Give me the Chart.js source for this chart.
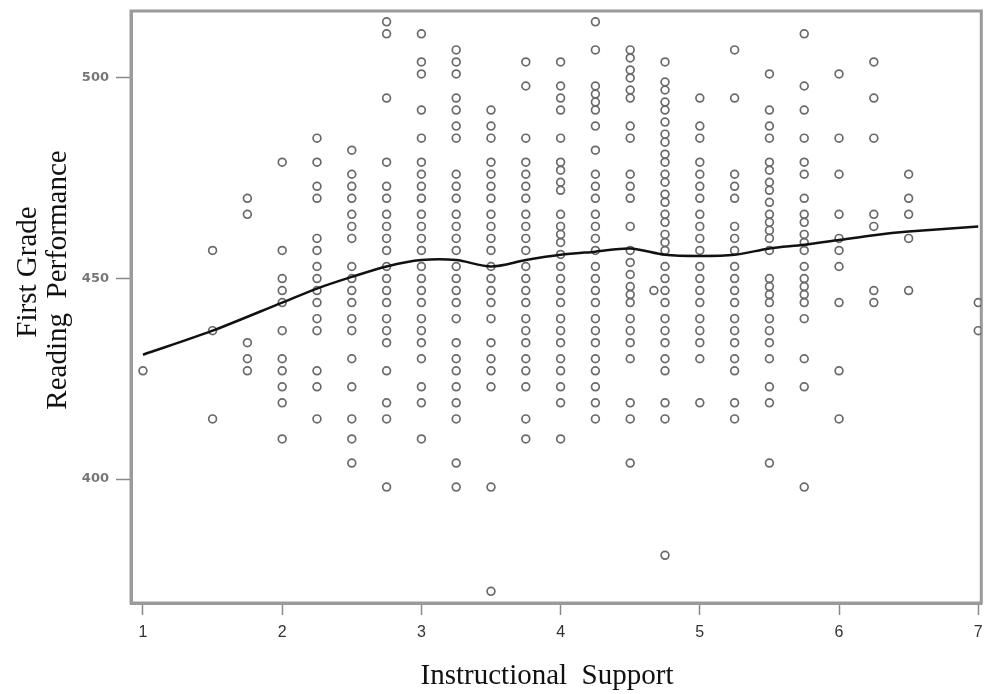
<!DOCTYPE html>
<html>
<head>
<meta charset="utf-8">
<script src="https://cdn.jsdelivr.net/npm/chart.js@4.4.1/dist/chart.umd.min.js"></script>
<style>
    body { margin: 0; background: #fff; }
</style>
</head>
<body>
<canvas id="scatterGraph" width="987" height="694"></canvas>
<script>
// Reading scores for each Instructional Support level
const scoresAt1 = [427];
const scoresAt1_5 = [457, 437, 415];
const scoresAt1_75 = [470, 466, 434, 430, 427];
const scoresAt2 = [479, 457, 450, 447, 444, 437, 430, 427, 423, 419, 410];
const scoresAt2_25 = [485, 479, 473, 470, 460, 457, 453, 450, 447, 444, 440, 437, 427, 423, 415];
const scoresAt2_5 = [482, 476, 473, 470, 466, 463, 460, 453, 450, 447, 444, 440, 437, 430, 423, 415, 410, 404];
const scoresAt2_75 = [514, 511, 495, 479, 473, 470, 466, 463, 460, 457, 453, 450, 447, 444, 440, 437, 434, 427, 419, 415, 398];
const scoresAt3 = [511, 504, 501, 492, 485, 479, 476, 473, 470, 466, 463, 460, 457, 453, 450, 447, 444, 440, 437, 434, 430, 423, 419, 410];
const scoresAt3_25 = [507, 504, 501, 495, 492, 488, 485, 476, 473, 470, 466, 463, 460, 457, 453, 450, 447, 444, 440, 434, 430, 427, 423, 419, 415, 404, 398];
const scoresAt3_5 = [492, 488, 485, 479, 476, 473, 470, 466, 463, 460, 457, 453, 450, 447, 444, 440, 434, 430, 427, 423, 398, 372];
const scoresAt3_75 = [504, 498, 485, 479, 476, 473, 470, 466, 463, 460, 457, 453, 450, 447, 444, 440, 437, 434, 430, 427, 423, 415, 410];
const scoresAt4 = [504, 498, 495, 492, 485, 479, 477, 474, 472, 466, 463, 461, 459, 456, 453, 450, 447, 444, 440, 437, 434, 430, 427, 423, 419, 410];
const scoresAt4_25 = [514, 507, 498, 496, 494, 492, 488, 482, 476, 473, 470, 466, 463, 460, 457, 453, 450, 447, 444, 440, 437, 434, 430, 427, 423, 419, 415];
const scoresAt4_5 = [507, 505, 502, 500, 497, 495, 488, 485, 476, 473, 470, 463, 457, 454, 451, 448, 446, 444, 440, 437, 434, 430, 419, 415, 404];
const scoresAt4_75 = [504, 499, 497, 494, 492, 489, 486, 484, 481, 479, 476, 474, 471, 469, 466, 464, 461, 459, 457, 453, 450, 447, 444, 440, 437, 434, 430, 427, 419, 415, 381];
const scoresAt5 = [495, 488, 485, 479, 476, 473, 470, 466, 463, 460, 457, 453, 450, 447, 444, 440, 437, 434, 430, 419];
const scoresAt5_25 = [507, 495, 476, 473, 470, 463, 460, 457, 453, 450, 447, 444, 440, 437, 434, 430, 427, 419, 415];
const scoresAt5_5 = [501, 492, 488, 485, 479, 477, 474, 472, 469, 466, 464, 462, 460, 457, 450, 448, 446, 444, 440, 437, 434, 430, 423, 419, 404];
const scoresAt5_75 = [511, 498, 492, 485, 479, 476, 470, 466, 464, 461, 459, 457, 453, 450, 448, 446, 444, 440, 430, 423, 398];
const scoresAt6 = [501, 485, 476, 466, 460, 457, 453, 444, 427, 415];
const scoresAt6_25 = [504, 495, 485, 466, 463, 447, 444];
const scoresAt6_5 = [476, 470, 466, 460, 447];
const scoresAt7 = [444, 437];

const supportLevels = [1, 1.5, 1.75, 2, 2.25, 2.5, 2.75, 3, 3.25, 3.5, 3.75, 4, 4.25, 4.5, 4.75, 5, 5.25, 5.5, 5.75, 6, 6.25, 6.5, 7];
const scoresByLevel = [scoresAt1, scoresAt1_5, scoresAt1_75, scoresAt2, scoresAt2_25, scoresAt2_5, scoresAt2_75, scoresAt3,
    scoresAt3_25, scoresAt3_5, scoresAt3_75, scoresAt4, scoresAt4_25, scoresAt4_5, scoresAt4_75, scoresAt5, scoresAt5_25,
    scoresAt5_5, scoresAt5_75, scoresAt6, scoresAt6_25, scoresAt6_5, scoresAt7];

// the one point that sits between columns
const strayX = [4.67];
const strayY = [447];

// smoothed fit line
const fitX = [1, 1.5, 2, 2.25, 2.5, 2.75, 3, 3.25, 3.5, 3.75, 4, 4.25, 4.5, 4.75, 5, 5.25, 5.5, 5.75, 6, 6.25, 6.5, 7];
const fitY = [431, 437, 444, 447.5, 450.4, 453, 454.6, 454.6, 453, 454.6, 455.9, 456.7, 457.5, 455.9, 455.6, 455.9, 457.5, 458.4, 459.6, 460.8, 461.7, 463];

const xTickValues = [1, 2, 3, 4, 5, 6, 7];
const yTickValues = [400, 450, 500];

let scatterPoints = [];
for (let i = 0; i < supportLevels.length; i++) {
    for (const score of scoresByLevel[i]) {
        scatterPoints.push({ x: supportLevels[i], y: score });
    }
}
for (let i = 0; i < strayX.length; i++) {
    scatterPoints.push({ x: strayX[i], y: strayY[i] });
}

let fitPoints = [];
for (let i = 0; i < fitX.length; i++) {
    fitPoints.push({ x: fitX[i], y: fitY[i] });
}

const serifFont = '"Liberation Serif", "Times New Roman", serif';

const boxAndTitles = {
    id: 'boxAndTitles',
    beforeDatasetsDraw(chart) {
        const { ctx, chartArea } = chart;
        ctx.save();
        ctx.strokeStyle = '#9a9a9a';
        ctx.lineWidth = 3;
        ctx.strokeRect(chartArea.left, chartArea.top, chartArea.right - chartArea.left, chartArea.bottom - chartArea.top);
        ctx.restore();
    },
    afterDraw(chart) {
        const { ctx } = chart;
        ctx.save();
        ctx.fillStyle = '#111';
        ctx.font = '29px ' + serifFont;
        ctx.textAlign = 'center';
        ctx.textBaseline = 'middle';
        ctx.fillText('Instructional  Support', 547, 676);
        ctx.translate(28, 275);
        ctx.rotate(-Math.PI / 2);
        ctx.fillText('First Grade', 3, 0);
        ctx.fillText('Reading  Performance', -5, 30);
        ctx.restore();
    }
};

new Chart(scatterGraph, {
    type: 'scatter',
    data: {
        datasets: [{
            data: fitPoints,
            showLine: true,
            borderColor: '#111',
            borderWidth: 2.5,
            pointRadius: 0,
            tension: 0.3,
            fill: false
        }, {
            data: scatterPoints,
            pointStyle: 'circle',
            pointRadius: 3.9,
            pointBorderWidth: 1.7,
            pointBorderColor: '#6a6a6a',
            pointBackgroundColor: 'rgba(0,0,0,0)'
        }]
    },
    options: {
        responsive: false,
        animation: false,
        layout: {
            padding: { top: 11, right: 2, left: 0, bottom: 0 }
        },
        scales: {
            x: {
                type: 'linear',
                min: 0.914,
                max: 7.022,
                afterBuildTicks: function(scale) {
                    scale.ticks = xTickValues.map(v => ({ value: v }));
                },
                afterFit: function(scale) {
                    scale.height = 91;
                    scale.paddingLeft = 0;
                    scale.paddingRight = 0;
                },
                grid: {
                    drawOnChartArea: false,
                    tickLength: 12,
                    tickWidth: 1.5,
                    tickColor: '#888'
                },
                border: {
                    color: '#9a9a9a',
                    width: 3
                },
                ticks: {
                    color: '#333',
                    padding: 8,
                    font: { family: '"Liberation Sans Narrow", "Liberation Sans", Arial, sans-serif', size: 16 }
                }
            },
            y: {
                type: 'linear',
                min: 369.1,
                max: 516.7,
                afterBuildTicks: function(scale) {
                    scale.ticks = yTickValues.map(v => ({ value: v }));
                },
                afterFit: function(scale) {
                    scale.width = 131;
                    scale.paddingTop = 0;
                    scale.paddingBottom = 0;
                },
                grid: {
                    drawOnChartArea: false,
                    tickLength: 15,
                    tickWidth: 1.5,
                    tickColor: '#888'
                },
                border: {
                    color: '#9a9a9a',
                    width: 3
                },
                ticks: {
                    color: '#777',
                    padding: 7,
                    font: { family: '"DejaVu Sans", Arial, sans-serif', size: 13, weight: 'bold' }
                }
            }
        },
        plugins: {
            legend: {
                display: false
            },
            tooltip: {
                enabled: false
            }
        }
    },
    plugins: [boxAndTitles]
});
</script>
</body>
</html>
